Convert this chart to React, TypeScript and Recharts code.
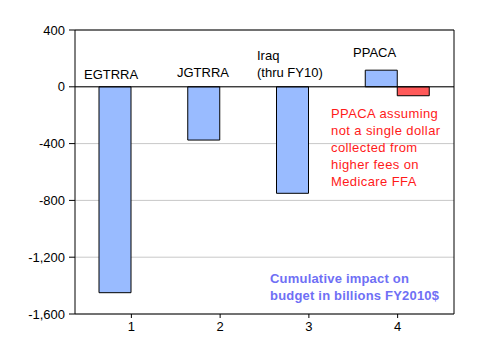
import { BarChart, Bar, XAxis, YAxis, CartesianGrid, ReferenceLine } from "recharts";

const categories = ["1", "2", "3", "4"];
const baseCosts = [-1450, -375, -750, 117];
const noFeeCosts = [null, null, null, -63];
const yTicks = [-1600, -1200, -800, -400, 0, 400];

const barLabels = [
  { lines: ["EGTRRA"], x: 84, y: 79 },
  { lines: ["JGTRRA"], x: 177, y: 77 },
  { lines: ["Iraq", "(thru FY10)"], x: 257, y: 60 },
  { lines: ["PPACA"], x: 353, y: 57 },
];
const noteLines = ["PPACA assuming", "not a single dollar", "collected from", "higher fees on", "Medicare FFA"];
const unitLines = ["Cumulative impact on", "budget in billions FY2010$"];

const data = categories.map((c, i) => ({ name: c, base: baseCosts[i], nofee: noFeeCosts[i] }));

const font = "Arial, 'Liberation Sans', sans-serif";
const fmt = (v: number) => v.toLocaleString("en-US");

// plot frame: top and right edges of the plotting area
const frameX = ({ offset }: any) => [offset.left + offset.width];
const frameY = ({ offset }: any) => [offset.top];

const App = () => {
  return (
    <div style={{ position: "absolute", left: 0, top: 0, width: 481, height: 361, background: "#fff" }}>
      <BarChart
        width={481}
        height={361}
        data={data}
        margin={{ top: 30, right: 27, bottom: 27, left: 0 }}
        barGap={0}
        barCategoryGap={12}
      >
        <CartesianGrid vertical={false} stroke="#c8c8c8" />
        <CartesianGrid
          stroke="#000"
          verticalCoordinatesGenerator={frameX}
          horizontalCoordinatesGenerator={frameY}
        />
        <XAxis
          dataKey="name"
          padding={{ left: 12, right: 12 }}
          height={20}
          stroke="#000"
          tickSize={4}
          tickMargin={4}
          tick={{ fill: "#000", fontSize: 13, fontFamily: font }}
        />
        <YAxis
          domain={[-1600, 400]}
          ticks={yTicks}
          interval={0}
          width={75}
          stroke="#000"
          tickFormatter={fmt}
          tickSize={6}
          tickMargin={4}
          tick={{ fill: "#000", fontSize: 13, fontFamily: font }}
        />
        <Bar dataKey="base" fill="#99bbff" stroke="#000" strokeWidth={1} isAnimationActive={false} />
        <Bar dataKey="nofee" fill="#ff5a5a" stroke="#000" strokeWidth={1} isAnimationActive={false} />
        <ReferenceLine y={0} stroke="#000" />
      </BarChart>
      <svg
        width={481}
        height={361}
        style={{ position: "absolute", left: 0, top: 0, pointerEvents: "none" }}
        fontFamily={font}
        fontSize={13}
      >
        {barLabels.map((l) =>
          l.lines.map((t, j) => (
            <text key={t} x={l.x} y={l.y + j * 17} fill="#000">
              {t}
            </text>
          ))
        )}
        {noteLines.map((t, j) => (
          <text key={t} x={331} y={118 + j * 16.9} fill="#ff1a1a" letterSpacing={0.4}>
            {t}
          </text>
        ))}
        {unitLines.map((t, j) => (
          <text key={t} x={270} y={283 + j * 17} fill="#6f6ff5" fontWeight="bold" letterSpacing={0.2}>
            {t}
          </text>
        ))}
      </svg>
    </div>
  );
};

export default App;
